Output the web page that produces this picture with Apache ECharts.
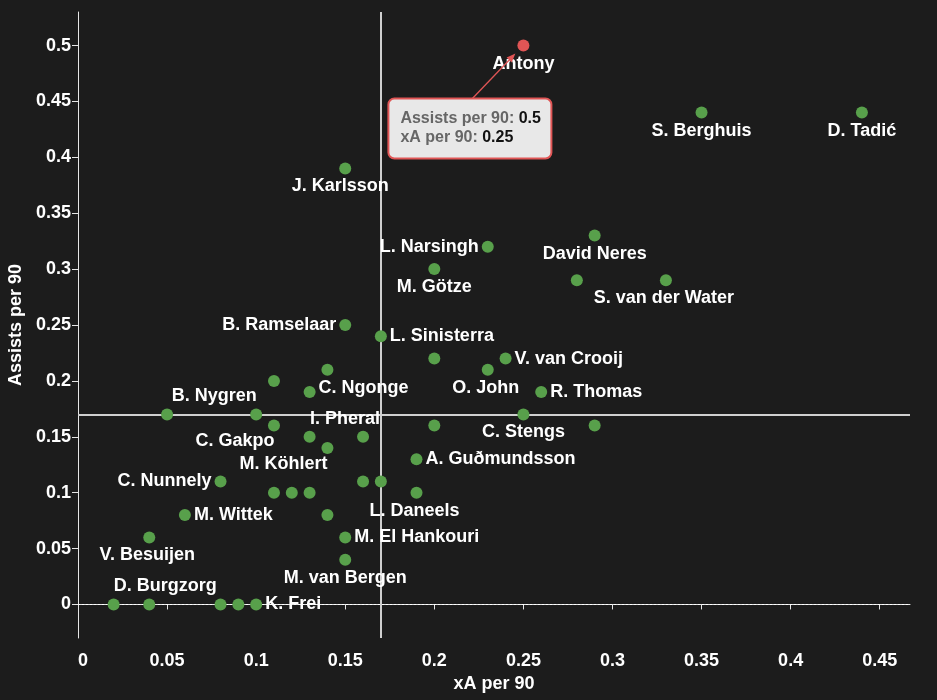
<!DOCTYPE html>
<html><head><meta charset="utf-8">
<script src="https://cdn.jsdelivr.net/npm/echarts@6/dist/echarts.min.js"></script>
<style>html,body{margin:0;padding:0;background:#1c1c1c}#c{width:937px;height:700px}</style>
</head><body><div id="c"></div>
<script>
// ---- data ----
const players = ["Antony","S. Berghuis","D. Tadić","J. Karlsson","David Neres","L. Narsingh","M. Götze","","S. van der Water","B. Ramselaar",
"L. Sinisterra","","V. van Crooij","O. John","","","C. Ngonge","R. Thomas","","B. Nygren",
"C. Stengs","C. Gakpo","","","","I. Pheral","M. Köhlert","A. Guðmundsson","C. Nunnely","",
"","","","","L. Daneels","M. Wittek","","V. Besuijen","M. El Hankouri","M. van Bergen",
"","D. Burgzorg","","","K. Frei"];
const xaPer90 = [0.25,0.35,0.44,0.15,0.29,0.23,0.20,0.28,0.33,0.15,
0.17,0.20,0.24,0.23,0.14,0.11,0.13,0.26,0.05,0.10,
0.25,0.11,0.20,0.29,0.13,0.16,0.14,0.19,0.08,0.16,
0.17,0.11,0.12,0.13,0.19,0.06,0.14,0.04,0.15,0.15,
0.02,0.04,0.08,0.09,0.10];
const assistsPer90 = [0.50,0.44,0.44,0.39,0.33,0.32,0.30,0.29,0.29,0.25,
0.24,0.22,0.22,0.21,0.21,0.20,0.19,0.19,0.17,0.17,
0.17,0.16,0.16,0.16,0.15,0.15,0.14,0.13,0.11,0.11,
0.11,0.10,0.10,0.10,0.10,0.08,0.08,0.06,0.06,0.04,
0,0,0,0,0];
const xTicks = [0,0.05,0.1,0.15,0.2,0.25,0.3,0.35,0.4,0.45];
const yTicks = [0,0.05,0.1,0.15,0.2,0.25,0.3,0.35,0.4,0.45,0.5];
const meanXa = 0.168;
const meanAssists = 0.173;
const highlighted = "Antony";
const xTitle = "xA per 90";
const yTitle = "Assists per 90";

// ---- label placement (style) ----
const labelPlace = {
 "Antony":["bottom",[0,0]], "S. Berghuis":["bottom",[0,0]], "D. Tadić":["bottom",[0,0]],
 "J. Karlsson":["bottom",[-5,0]], "David Neres":["bottom",[0,0]], "L. Narsingh":["left",[0,0]],
 "M. Götze":["bottom",[0,0]], "S. van der Water":["bottom",[-2,0]], "B. Ramselaar":["left",[0,0]],
 "L. Sinisterra":["right",[0,0]], "V. van Crooij":["right",[0,0]], "O. John":["bottom",[-2,0]],
 "C. Ngonge":["right",[0,-4]], "R. Thomas":["right",[0,0]], "B. Nygren":["top",[-42,0]],
 "C. Stengs":["bottom",[0,0]], "C. Gakpo":["bottom",[-39,-3]], "I. Pheral":["top",[-18,0]],
 "M. Köhlert":["bottom",[-44,-2]], "A. Guðmundsson":["right",[0,0]], "C. Nunnely":["left",[0,0]],
 "L. Daneels":["bottom",[-2,0]], "M. Wittek":["right",[0,0]], "M. El Hankouri":["right",[0,0]],
 "V. Besuijen":["bottom",[-2,0]], "M. van Bergen":["bottom",[0,0]], "D. Burgzorg":["top",[16,0]],
 "K. Frei":["right",[0,0]]
};

const FONT = "'Liberation Sans', Arial, sans-serif";
const GREEN = "#58a04b", RED = "#e05555", WHITE = "#ffffff";

const seriesData = players.map((n, i) => {
  const item = { name: n, value: [xaPer90[i], assistsPer90[i]] };
  const lp = labelPlace[n];
  if (lp) item.label = { show: true, position: lp[0], offset: lp[1] };
  if (n === highlighted) item.itemStyle = { color: RED };
  return item;
});

const chart = echarts.init(document.getElementById('c'), null, { renderer: 'canvas' });
const axisCommon = {
  type: 'value',
  nameLocation: 'middle',
  nameTextStyle: { color: WHITE, fontWeight: 'bold', fontSize: 18, fontFamily: FONT },
  axisLine: { show: true, lineStyle: { color: '#e6e6e6', width: 1 } },
  splitLine: { show: false },
};
chart.setOption({
  backgroundColor: '#1c1c1c',
  animation: false,
  grid: { left: 78, right: 27, top: 12, bottom: 62, containLabel: false, outerBoundsMode: 'none' },
  xAxis: Object.assign({}, axisCommon, {
    min: 0, max: 0.467, name: xTitle, nameGap: 36,
    axisTick: { show: true, length: 5, lineStyle: { color: '#e6e6e6' }, customValues: xTicks },
    axisLabel: { color: WHITE, fontWeight: 'bold', fontSize: 18, fontFamily: FONT, margin: 14, customValues: xTicks, alignMinLabel: 'left', formatter: v => String(v) }
  }),
  yAxis: Object.assign({}, axisCommon, {
    min: -0.03, max: 0.53, name: yTitle, nameGap: 47,
    axisTick: { show: true, length: 6, lineStyle: { color: '#e6e6e6' }, customValues: yTicks },
    axisLabel: { color: WHITE, fontWeight: 'bold', fontSize: 18, fontFamily: FONT, margin: 7, customValues: yTicks, formatter: v => String(v) }
  }),
  series: [{
    type: 'scatter',
    name: 'reference lines',
    data: [],
    z: 1,
    silent: true,
    markLine: {
      silent: true, symbol: 'none', label: { show: false },
      data: [
        { yAxis: 0, lineStyle: { type: [2, 2], color: '#ffffff', width: 1 } },
        { xAxis: meanXa, lineStyle: { type: 'solid', color: '#cfcfcf', width: 2 } },
        { yAxis: meanAssists, lineStyle: { type: 'solid', color: '#cfcfcf', width: 2 } }
      ]
    }
  }, {
    type: 'scatter',
    name: 'players',
    symbolSize: 12,
    itemStyle: { color: GREEN, opacity: 1 },
    label: { show: false, color: WHITE, fontWeight: 'bold', fontSize: 18, fontFamily: FONT, distance: 3, formatter: '{b}' },
    emphasis: { disabled: true },
    data: seriesData,
    z: 5
  }]
});

// ---- annotation box for highlighted player ----
const hi = players.indexOf(highlighted);
const p = chart.convertToPixel({ seriesIndex: 1 }, [xaPer90[hi], assistsPer90[hi]]);
const bx = p[0] - 135, by = p[1] + 53, bw = 163, bh = 60;
const lx1 = p[0] - 51, ly1 = by, lx2 = p[0] - 8, ly2 = p[1] + 8;
const dx = lx2 - lx1, dy = ly2 - ly1, len = Math.hypot(dx, dy), ux = dx / len, uy = dy / len;
const hl = 9, hw = 3.5;
chart.setOption({
  graphic: [
    { type: 'line', z: 100, shape: { x1: lx1, y1: ly1, x2: lx2 - ux * hl * 0.8, y2: ly2 - uy * hl * 0.8 }, style: { stroke: RED, lineWidth: 1.3 } },
    { type: 'polygon', z: 100, shape: { points: [[lx2, ly2], [lx2 - ux * hl - uy * hw, ly2 - uy * hl + ux * hw], [lx2 - ux * hl + uy * hw, ly2 - uy * hl - ux * hw]] }, style: { fill: RED } },
    { type: 'rect', z: 100, shape: { x: bx, y: by, width: bw, height: bh, r: 6 }, style: { fill: '#e8e8e8', stroke: RED, lineWidth: 2 } },
    { type: 'text', z: 101, x: bx + 12, y: by + 11, style: {
      text: '{l|Assists per 90: }{v|' + assistsPer90[hi] + '}\n{l|xA per 90: }{v|' + xaPer90[hi] + '}',
      rich: {
        l: { fill: '#666666', fontWeight: 'bold', fontSize: 16, fontFamily: FONT, lineHeight: 19 },
        v: { fill: '#111111', fontWeight: 'bold', fontSize: 16, fontFamily: FONT, lineHeight: 19 }
      }
    } }
  ]
});
</script>
</body></html>
